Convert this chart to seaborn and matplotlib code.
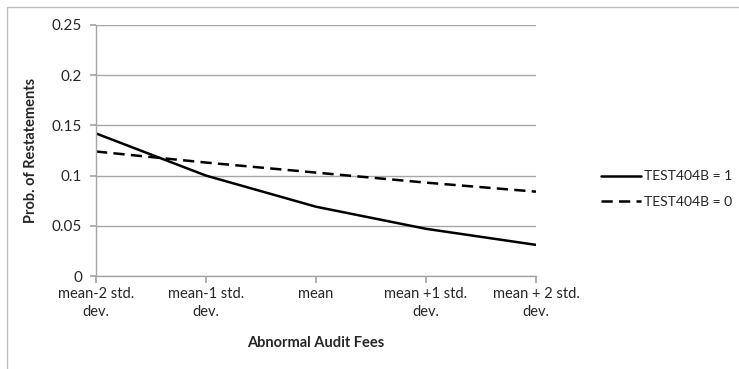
import matplotlib
matplotlib.use("Agg")
import matplotlib.pyplot as plt
import matplotlib.patches as mpatches
import seaborn as sns
import pandas as pd

categories = ["mean-2 std.\ndev.", "mean-1 std.\ndev.", "mean", "mean +1 std.\ndev.", "mean + 2 std.\ndev."]
series_names = ["TEST404B = 1", "TEST404B = 0"]
test404b_1 = [0.142, 0.100, 0.069, 0.047, 0.031]
test404b_0 = [0.124, 0.113, 0.103, 0.093, 0.084]
y_ticks = [0, 0.05, 0.1, 0.15, 0.2, 0.25]
y_tick_labels = ["0", "0.05", "0.1", "0.15", "0.2", "0.25"]

rows = []
for i, cat in enumerate(categories):
    rows.append({"pos": i, "prob": test404b_1[i], "series": series_names[0]})
    rows.append({"pos": i, "prob": test404b_0[i], "series": series_names[1]})
df = pd.DataFrame(rows)

sns.set_theme(style="white")
plt.rcParams["font.family"] = ["Lato", "DejaVu Sans"]

fig = plt.figure(figsize=(7.39, 3.69), dpi=100)
ax = fig.add_axes([96 / 739, 1 - 276 / 369, (536 - 96) / 739, (276 - 25) / 369])

sns.lineplot(
    data=df, x="pos", y="prob", hue="series", style="series",
    palette={series_names[0]: "black", series_names[1]: "black"},
    dashes={series_names[0]: "", series_names[1]: (4.5, 2.5)},
    linewidth=1.8, ax=ax, legend=True,
)

ax.set_xlim(0, 4)
ax.set_ylim(0, 0.25)
ax.set_yticks(y_ticks)
ax.set_yticklabels(y_tick_labels, fontsize=11)
ax.set_xticks(range(len(categories)))
ax.set_xticklabels(categories, fontsize=10.5, linespacing=1.35)
ax.yaxis.grid(True, color="#a6a6a6", linewidth=1)
ax.set_axisbelow(True)
for side in ["top", "right"]:
    ax.spines[side].set_visible(False)
for side in ["left", "bottom"]:
    ax.spines[side].set_color("#a6a6a6")
    ax.spines[side].set_linewidth(1)
ax.tick_params(axis="x", which="major", bottom=True, length=5, color="#a6a6a6", pad=3)
ax.tick_params(axis="y", which="major", left=True, length=4, color="#a6a6a6", pad=6)

ax.set_xlabel("Abnormal Audit Fees", fontsize=10.5, fontweight="bold", labelpad=12)
ax.set_ylabel("Prob. of Restatements", fontsize=10.5, fontweight="bold", labelpad=10)

handles, labels = ax.get_legend_handles_labels()
ax.legend(
    handles, labels, loc="center left", bbox_to_anchor=(594 / 739, 1 - 189 / 369),
    bbox_transform=fig.transFigure, frameon=False, fontsize=10,
    handlelength=2.9, handletextpad=0.2, labelspacing=0.95, borderpad=0,
)

fig.patches.append(mpatches.Rectangle(
    (7 / 739, -0.2), 2.0, 1.2 - 7 / 369, transform=fig.transFigure,
    fill=False, edgecolor="#bfbfbf", linewidth=1, zorder=0,
))

fig.savefig("out.png", dpi=100, facecolor="white")
